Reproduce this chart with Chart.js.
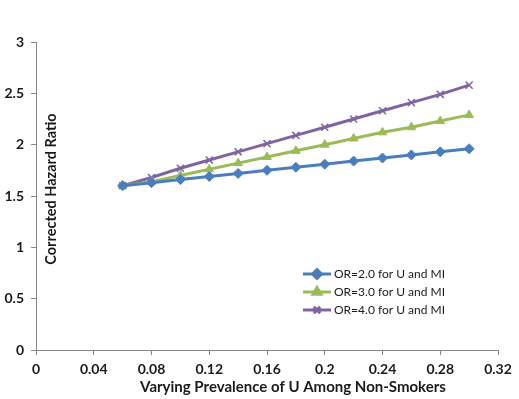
<!DOCTYPE html>
<html>
<head>
<meta charset="utf-8">
<script src="https://cdn.jsdelivr.net/npm/chart.js@4.4.0/dist/chart.umd.min.js"></script>
<style>
html,body{margin:0;padding:0;background:#fff;}
#wrap{position:relative;width:519px;height:399px;}
</style>
</head>
<body>
<div id="wrap"><canvas id="c" width="519" height="399"></canvas></div>
<script>
const prevalence = [0.06,0.08,0.10,0.12,0.14,0.16,0.18,0.20,0.22,0.24,0.26,0.28,0.30];
const or2 = [1.60,1.63,1.66,1.69,1.72,1.75,1.78,1.81,1.84,1.87,1.90,1.93,1.96];
const or3 = [1.60,1.64,1.70,1.76,1.82,1.88,1.94,2.00,2.06,2.12,2.17,2.23,2.29];
const or4 = [1.60,1.68,1.77,1.85,1.93,2.01,2.09,2.17,2.25,2.33,2.41,2.49,2.58];
const seriesNames = ['OR=2.0 for U and MI','OR=3.0 for U and MI','OR=4.0 for U and MI'];
const xTickValues = [0,0.04,0.08,0.12,0.16,0.2,0.24,0.28,0.32];
const xTitle = 'Varying Prevalence of U Among Non-Smokers';
const yTitle = 'Corrected Hazard Ratio';

const colors = ['#4A7EBB','#9BBB59','#8064A2'];
const markers = ['rectRot','triangle','crossRot'];
const allSeries = [or2, or3, or4];

const FONT = 'Lato, "Open Sans", sans-serif';

const datasets = allSeries.map((vals,i)=>({
  label: seriesNames[i],
  data: prevalence.map((x,j)=>({x:x,y:vals[j]})),
  borderColor: colors[i],
  backgroundColor: colors[i],
  pointBackgroundColor: colors[i],
  pointBorderColor: colors[i],
  pointStyle: markers[i],
  pointRadius: 5,
  pointBorderWidth: i===2?1.5:1,
  borderWidth: 3,
  tension: 0
}));

const extras = {
  id:'extras',
  afterDraw(chart){
    const ctx = chart.ctx;
    ctx.save();
    // y title inside plot
    ctx.translate(51, 189);
    ctx.rotate(-Math.PI/2);
    ctx.font = 'bold 14.5px ' + FONT;
    ctx.fillStyle = '#1a1a1a';
    ctx.textAlign = 'center';
    ctx.textBaseline = 'middle';
    ctx.fillText(yTitle, 0, 0);
    ctx.restore();
    // x title
    ctx.save();
    ctx.font = 'bold 15px ' + FONT;
    ctx.fillStyle = '#1a1a1a';
    ctx.textAlign = 'center';
    ctx.textBaseline = 'middle';
    ctx.fillText(xTitle, 293, 387);
    ctx.restore();
    // legend
    ctx.save();
    const lx = 303, ly0 = 274, step = 18;
    chart.data.datasets.forEach((ds,i)=>{
      const y = ly0 + i*step;
      ctx.strokeStyle = ds.borderColor;
      ctx.lineWidth = 3;
      ctx.beginPath(); ctx.moveTo(lx, y); ctx.lineTo(lx+28, y); ctx.stroke();
      ctx.fillStyle = ds.borderColor; ctx.strokeStyle = ds.borderColor;
      Chart.helpers.drawPoint(ctx, {pointStyle: ds.pointStyle, radius: 4.5, borderWidth: ds.pointBorderWidth, rotation:0}, lx+14, y);
      ctx.font = '12px ' + FONT;
      ctx.fillStyle = '#1a1a1a';
      ctx.textAlign = 'left';
      ctx.textBaseline = 'middle';
      ctx.fillText(ds.label, lx+31, y);
    });
    ctx.restore();
  }
};

new Chart(document.getElementById('c'), {
  type: 'line',
  data: { datasets },
  options: {
    responsive: false,
    animation: false,
    devicePixelRatio: 1,
    layout: { padding: { top: 42, right: 21, bottom: 0, left: 0 } },
    plugins: { legend: { display: false }, tooltip: { enabled: false } },
    scales: {
      x: {
        type: 'linear',
        min: 0, max: 0.32,
        afterFit(s){ s.height = 49; },
        afterBuildTicks(s){ s.ticks = xTickValues.map(v=>({value:v})); },
        ticks: { callback: v => String(+v.toFixed(2)), font: { family: FONT, weight: 'bold', size: 14 }, color: '#1a1a1a', padding: 6, maxRotation: 0, autoSkip: false },
        grid: { drawOnChartArea: false, drawTicks: true, tickLength: 5, color: '#868686' },
        border: { color: '#868686', width: 1 }
      },
      y: {
        min: 0, max: 3,
        afterFit(s){ s.width = 36; },
        ticks: { stepSize: 0.5, callback: v => String(v), font: { family: FONT, weight: 'bold', size: 14 }, color: '#1a1a1a', padding: 7 },
        grid: { drawOnChartArea: false, drawTicks: true, tickLength: 5, color: '#868686' },
        border: { color: '#868686', width: 1 }
      }
    }
  },
  plugins: [extras]
});
</script>
</body>
</html>
